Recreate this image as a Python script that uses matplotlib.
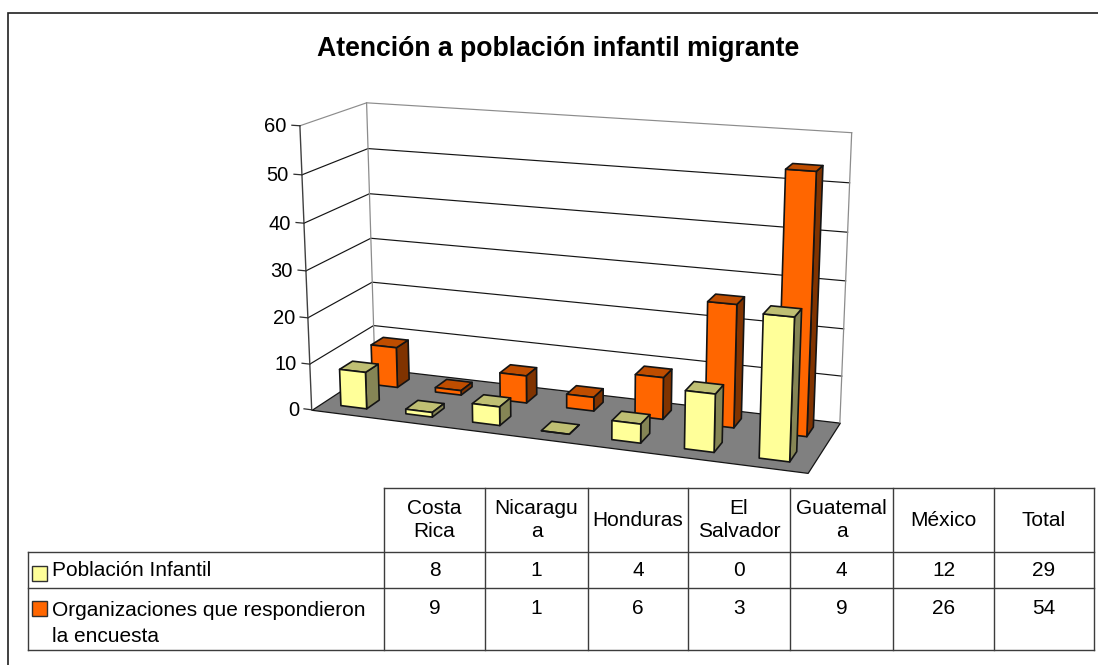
import numpy as np
import matplotlib
matplotlib.use("Agg")
import matplotlib.pyplot as plt
from matplotlib.patches import Rectangle
from mpl_toolkits.mplot3d import proj3d
from mpl_toolkits.mplot3d.art3d import Poly3DCollection

plt.rcParams['font.family'] = ['Liberation Sans', 'DejaVu Sans']

# ---- data -------------------------------------------------------------
title = "Atención a población infantil migrante"
categories = ["Costa\nRica", "Nicaragu\na", "Honduras", "El\nSalvador", "Guatemal\na", "México", "Total"]
poblacion = [8, 1, 4, 0, 4, 12, 29]
organizaciones = [9, 1, 6, 3, 9, 26, 54]
series_names = ["Población Infantil", "Organizaciones que respondieron\nla encuesta"]
z_ticks = [0, 10, 20, 30, 40, 50, 60]

# ---- style ------------------------------------------------------------
W, H = 1098, 665
YELLOW = ("#FFFF99", "#BFBF73", "#858555")   # front, top, side
ORANGE = ("#FF6600", "#BF4D00", "#803300")
EDGE = "#141414"
GREY = "#8c8c8c"
BAR_W = 0.4

# camera
ELEV, AZIM, ROLL = 15.02, -69.955, 0.049
FOCAL, BOX_Y, BOX_Z = 0.54292, 0.28212, 0.57023
CX, CY, SCALE = 572.78, 389.18, 3239.13

fig = plt.figure(figsize=(W / 100, H / 100), dpi=100, facecolor="white")
ax = fig.add_axes([0, 0, 1, 1], projection="3d", computed_zorder=False)
vl = ax.viewLim
side = SCALE * (vl.x1 - vl.x0)
ax.set_position([(CX + SCALE * vl.x0) / W, (CY + SCALE * vl.y0) / H, side / W, side / H])
ax.view_init(ELEV, AZIM, ROLL)
ax.set_proj_type("persp", focal_length=FOCAL)
ax.set_box_aspect((1, BOX_Y, BOX_Z))
ax.set_axis_off()
ax.patch.set_visible(False)

n = len(poblacion)
zmax = max(z_ticks)

# floor
ax.add_collection3d(Poly3DCollection([[(0, 0, 0), (n, 0, 0), (n, 2, 0), (0, 2, 0)]],
                                     facecolors="#808080", edgecolors=EDGE, linewidths=0.9, zorder=1))
# walls and grid
for z in z_ticks[1:]:
    c = GREY if z == zmax else EDGE
    ax.plot([0, 0, n], [0, 2, 2], [z, z, z], color=c, lw=0.85, zorder=2)
ax.plot([0, 0], [2, 2], [0, zmax], color=GREY, lw=0.9, zorder=2)
ax.plot([n, n], [2, 2], [0, zmax], color=GREY, lw=0.9, zorder=2)
ax.plot([0, 0], [0, 0], [0, zmax], color="#404040", lw=1.0, zorder=2)
for z in z_ticks:
    ax.plot([-0.12, 0], [0, 0], [z, z], color="#303030", lw=0.9, zorder=2)

# bars: faces -z, +z, -y, +y, -x, +x; only the three facing the viewer are painted
def bar(i, row, value, cols, order):
    front, top, right = cols
    faces = ["none", top, front, "none", "none", right]
    edges = ["none", EDGE, EDGE, "none", "none", EDGE]
    ax.bar3d(i + 0.5 - BAR_W / 2, row + 0.5 - BAR_W / 2, 0, BAR_W, BAR_W, value,
             color=faces, edgecolor=edges, linewidth=1.2, shade=False, zorder=order)

for i, v in enumerate(organizaciones):
    bar(i, 1, v, ORANGE, 5 + i)
for i, v in enumerate(poblacion):
    bar(i, 0, v, YELLOW, 15 + i)

ax.set_xlim(0, n)
ax.set_ylim(0, 2)
ax.set_zlim(0, zmax)

# ---- overlay: frame, title, data table (in picture pixels) ----------------
ov = fig.add_axes([0, 0, 1, 1], zorder=5)
ov.set_xlim(0, W)
ov.set_ylim(H, 0)
ov.axis("off")
ov.patch.set_visible(False)

# value-axis labels, placed where the 3D axis projects them
ax.apply_aspect()
M = ax.get_proj()
for z in z_ticks:
    x2, y2, _ = proj3d.proj_transform(-0.2, 0, z, M)
    px, py = ov.transData.inverted().transform(ax.transData.transform((float(x2), float(y2))))
    ov.text(px, py + 2, str(z), ha="right", va="center", fontsize=14.5, color="black")

ov.plot([7.5, 7.5, W], [H, 12.5, 12.5], color="#202020", lw=1.2, solid_joinstyle="miter")
ov.text(558, 49, title, ha="center", va="center", fontsize=19.2, fontweight="bold", color="black")

col_edges = [384, 485, 588, 688, 790, 893, 994, 1094]
row_edges = [487.5, 551.5, 588, 650]
label_left = 28
TL = "#3c3c3c"
for x in col_edges:
    ov.plot([x, x], [row_edges[0], row_edges[-1]], color=TL, lw=1.0)
ov.plot([label_left, label_left], [row_edges[1], row_edges[-1]], color=TL, lw=1.0)
ov.plot([col_edges[0], col_edges[-1]], [row_edges[0], row_edges[0]], color=TL, lw=1.0)
for y in row_edges[1:]:
    ov.plot([label_left, col_edges[-1]], [y, y], color=TL, lw=1.0)

TS = 15
for j, name in enumerate(categories):
    xc = (col_edges[j] + col_edges[j + 1]) / 2
    ov.text(xc, 520, name, ha="center", va="center", fontsize=TS, linespacing=1.3)
    ov.text(xc, 571, str(poblacion[j]), ha="center", va="center", fontsize=TS)
    ov.text(xc, 608, str(organizaciones[j]), ha="center", va="center", fontsize=TS)

ov.add_patch(Rectangle((32, 566), 15, 15, facecolor=YELLOW[0], edgecolor="#303030", lw=1.0))
ov.add_patch(Rectangle((32, 601), 15, 15, facecolor=ORANGE[0], edgecolor="#303030", lw=1.0))
ov.text(52, 571, series_names[0], ha="left", va="center", fontsize=TS)
ov.text(52, 623.5, series_names[1], ha="left", va="center", fontsize=TS, linespacing=1.42)

fig.savefig("out.png", dpi=100)
